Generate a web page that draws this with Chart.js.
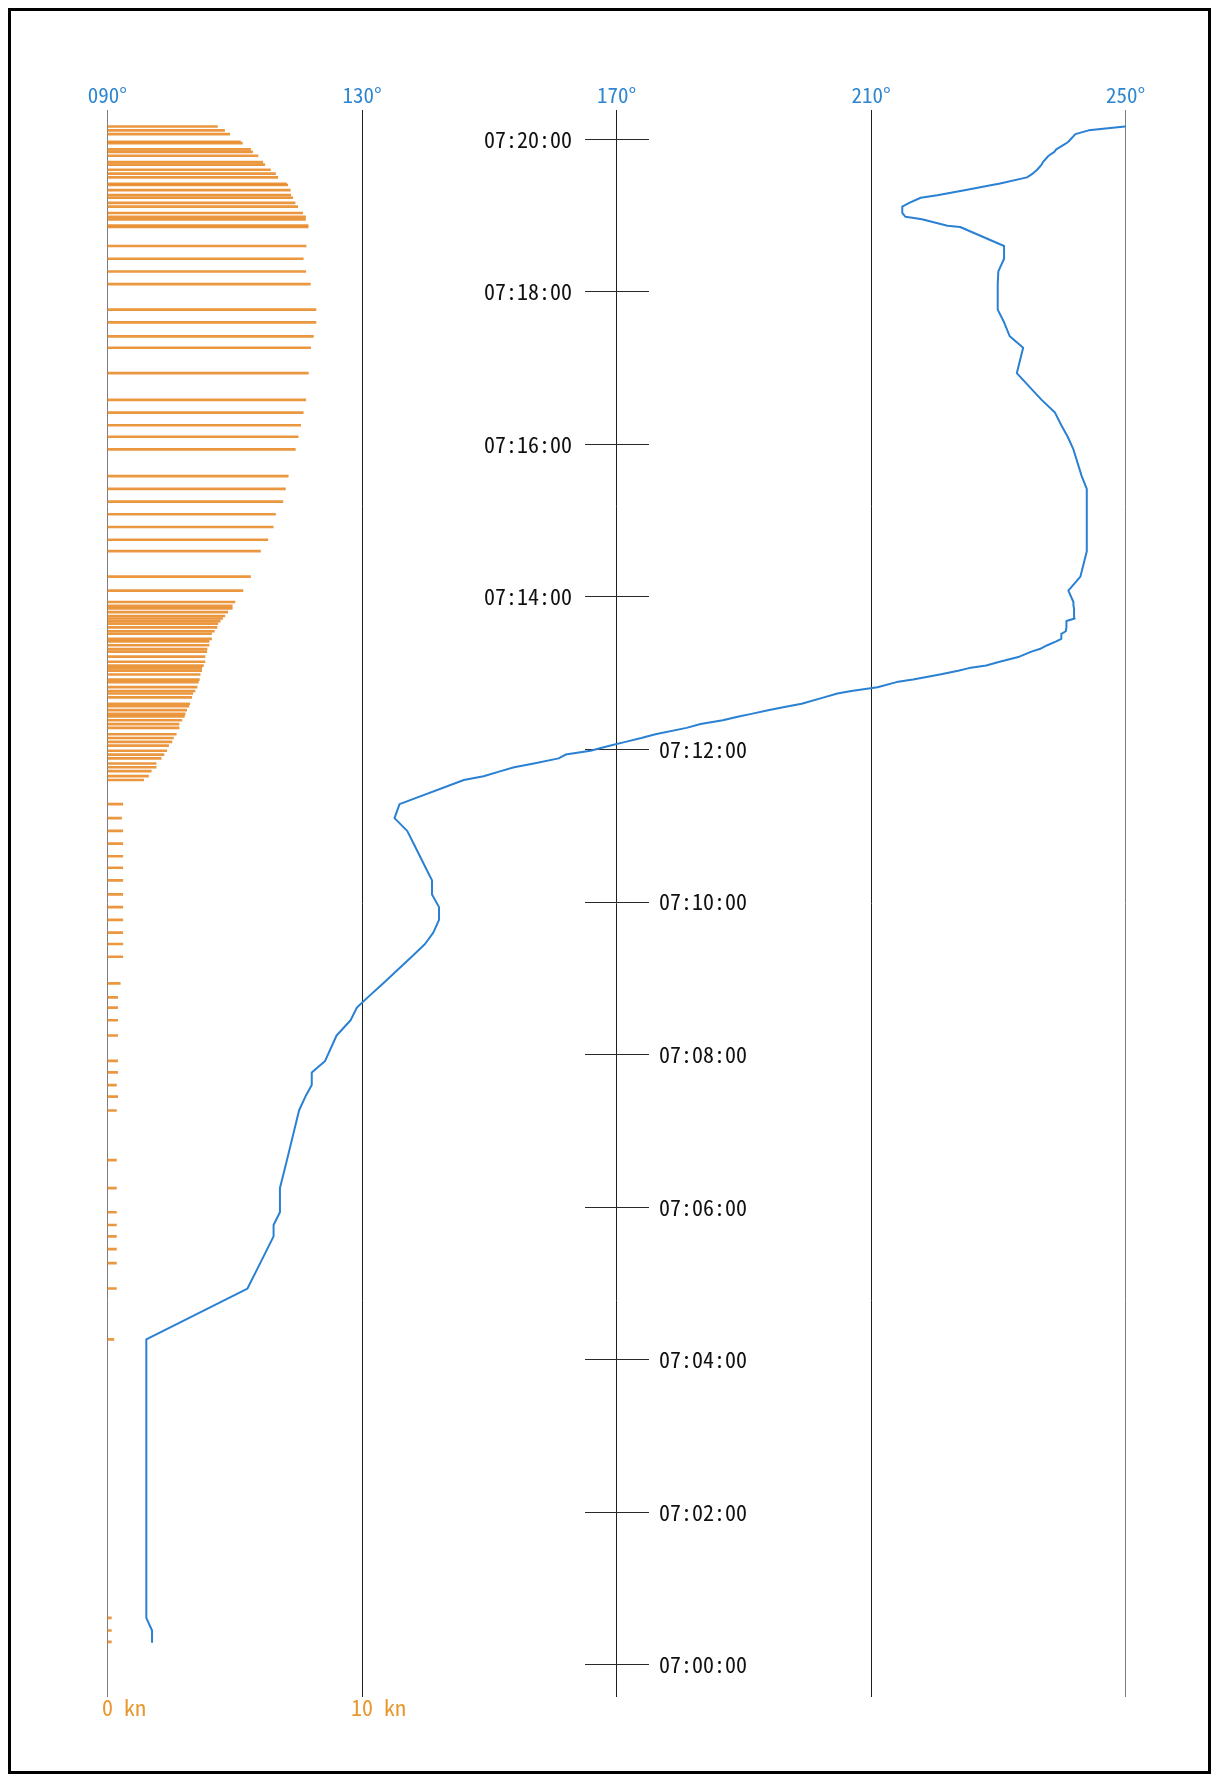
<!DOCTYPE html>
<html>
<head>
<meta charset="utf-8">
<script src="https://cdn.jsdelivr.net/npm/chart.js@4.4.1/dist/chart.umd.min.js"></script>
<style>
html,body{margin:0;padding:0;background:#fff;}
#wrap{position:relative;width:1213px;height:1776px;overflow:hidden;}
#c{position:absolute;left:0;top:0;}
#frame{position:absolute;left:8px;top:8px;width:1197px;height:1760px;border:3px solid #000;pointer-events:none;}
</style>
</head>
<body>
<div id="wrap"><canvas id="c" width="1213" height="1776"></canvas><div id="frame"></div></div>
<script>
// ---- data ----
const sampleTimes = [
'07:00:18','07:00:27','07:00:37','07:04:16','07:04:56','07:05:16','07:05:27','07:05:37','07:05:46','07:05:56',
'07:06:15','07:06:37','07:07:16','07:07:27','07:07:36','07:07:46','07:07:55','07:08:15','07:08:27','07:08:37',
'07:08:45','07:08:56','07:09:17','07:09:27','07:09:36','07:09:46','07:09:56','07:10:06','07:10:17','07:10:27',
'07:10:36','07:10:46','07:10:56','07:11:06','07:11:17','07:11:36','07:11:39','07:11:43','07:11:46','07:11:49',
'07:11:53','07:11:56','07:11:59','07:12:03','07:12:06','07:12:09','07:12:12','07:12:17','07:12:20','07:12:23',
'07:12:26','07:12:28','07:12:31','07:12:34','07:12:36','07:12:41','07:12:44','07:12:46','07:12:49','07:12:53',
'07:12:55','07:12:59','07:13:02','07:13:04','07:13:06','07:13:09','07:13:13','07:13:17','07:13:19','07:13:22',
'07:13:25','07:13:27','07:13:31','07:13:33','07:13:36','07:13:39','07:13:41','07:13:43','07:13:45','07:13:48',
'07:13:51','07:13:53','07:13:56','07:14:05','07:14:16','07:14:36','07:14:45','07:14:55','07:15:05','07:15:15',
'07:15:25','07:15:35','07:15:56','07:16:06','07:16:15','07:16:25','07:16:35','07:16:56','07:17:16','07:17:25',
'07:17:36','07:17:46','07:18:06','07:18:16','07:18:26','07:18:36','07:18:51','07:18:52','07:18:57','07:18:59',
'07:19:02','07:19:07','07:19:10','07:19:14','07:19:16','07:19:20','07:19:24','07:19:25','07:19:30','07:19:33',
'07:19:36','07:19:40','07:19:42','07:19:47','07:19:50','07:19:52','07:19:57','07:19:58','07:20:04','07:20:07',
'07:20:10'];

const speedKn = [
0.15,0.15,0.15,0.25,0.35,0.35,0.35,0.35,0.35,0.35,
0.35,0.35,0.35,0.40,0.35,0.40,0.40,0.40,0.40,0.40,
0.40,0.50,0.60,0.60,0.60,0.60,0.60,0.60,0.60,0.60,
0.60,0.60,0.60,0.55,0.60,1.42,1.61,1.72,1.91,1.91,
2.11,2.22,2.33,2.40,2.53,2.59,2.70,2.81,2.81,2.92,
3.02,3.05,3.11,3.20,3.23,3.31,3.35,3.44,3.52,3.57,
3.61,3.64,3.70,3.70,3.77,3.83,3.83,3.90,3.91,3.99,
3.99,4.09,4.09,4.20,4.30,4.33,4.43,4.52,4.61,4.72,
4.90,4.90,5.01,5.32,5.62,6.01,6.30,6.51,6.60,6.89,
6.99,7.10,7.38,7.49,7.59,7.69,7.79,7.89,7.98,8.09,
8.19,8.19,7.97,7.79,7.69,7.80,7.88,7.88,7.78,7.78,
7.67,7.47,7.37,7.28,7.20,7.18,7.08,7.03,6.69,6.60,
6.40,6.18,6.10,5.91,5.70,5.62,5.30,5.22,4.80,4.60,
4.32];

const headingDeg = [
97.0,97.0,96.1,96.1,112.0,114.0,115.1,116.1,116.1,117.1,
117.1,118.2,120.1,121.1,122.1,122.1,124.2,126.0,128.2,129.2,
130.9,133.3,137.8,139.9,141.2,142.1,142.1,141.0,141.0,140.0,
139.1,138.1,137.1,135.1,135.9,146.0,149.1,151.8,153.9,157.0,
160.9,162.0,165.9,168.9,171.4,173.9,176.1,181.0,183.2,186.7,
189.2,191.2,194.0,197.0,199.1,202.6,204.7,206.9,211.0,214.0,
216.6,220.8,223.7,225.4,228.1,230.2,233.3,235.2,236.5,237.7,
239.1,239.9,239.9,240.6,240.7,240.7,240.7,242.0,241.9,241.9,
241.9,241.8,241.8,241.0,242.9,243.9,243.9,243.9,243.9,243.9,
243.9,243.1,241.8,240.9,239.9,238.9,236.8,232.9,233.9,231.8,
230.9,229.9,229.9,230.0,230.9,230.9,224.0,222.0,218.0,215.4,
214.9,214.9,216.0,217.8,220.4,224.9,229.0,230.1,234.5,235.4,
236.1,236.8,237.0,237.9,238.8,239.1,240.7,241.0,242.1,244.2,
249.9];

const timeTickLabels = ['07:00:00','07:02:00','07:04:00','07:06:00','07:08:00','07:10:00',
                        '07:12:00','07:14:00','07:16:00','07:18:00','07:20:00'];
const headingTickLabels = ['090°','130°','170°','210°','250°'];
const speedTickLabels = ['0 kn','10 kn'];

// ---- helpers ----
function toSec(s){ const p = s.split(':').map(Number); return (p[0]-7)*3600 + p[1]*60 + p[2]; }
const tSec = sampleTimes.map(toSec);
const timeTicks = timeTickLabels.map(toSec);
const headingTicks = headingTickLabels.map(l => parseFloat(l));
const speedTicks = speedTickLabels.map(l => parseFloat(l));
const leftTimeTicks = timeTicks.filter(v => v >= 840);
const rightTimeTicks = timeTicks.filter(v => v <= 720);
const timeLabel = v => timeTickLabels[timeTicks.indexOf(v)] || '';

const FONT = "'Noto Sans Mono CJK JP', 'Noto Sans CJK JP', 'DejaVu Sans Mono', monospace";
const T_MIN = -25.3, T_MAX = 1223;
const BLUE = '#2a80d2';
const ORANGE = 'rgba(232,140,42,0.9)';

function timeAxis(pos, ticksArr, showTicks, showLabels){
  return {
    type: 'linear', axis: 'y', min: T_MIN, max: T_MAX, offset: false,
    position: pos,
    afterBuildTicks: s => { s.ticks = ticksArr.map(v => ({value: v})); },
    border: {display: false},
    grid: {display: showTicks, offset: false, drawOnChartArea: false, drawTicks: showTicks,
           tickLength: 64, color: '#2a2a2a', lineWidth: 1},
    ticks: {display: showLabels, autoSkip: false, padding: 0, color: '#111',
            font: {family: FONT, size: 22, lineHeight: 1}, callback: v => timeLabel(v)}
  };
}

new Chart(document.getElementById('c'), {
  type: 'bar',
  data: {
    datasets: [
      {
        type: 'line', label: 'heading',
        data: tSec.map((t, i) => ({x: headingDeg[i], y: t})),
        xAxisID: 'x', yAxisID: 'y',
        borderColor: BLUE, borderWidth: 2, borderJoinStyle: 'round', borderCapStyle: 'round',
        pointRadius: 0, tension: 0, fill: false, clip: false
      },
      {
        type: 'bar', label: 'speed',
        data: tSec.map((t, i) => ({x: speedKn[i], y: t})),
        xAxisID: 'xk', yAxisID: 'y',
        backgroundColor: ORANGE, borderWidth: 0, barThickness: 2
      }
    ]
  },
  options: {
    indexAxis: 'y',
    responsive: false, animation: false, devicePixelRatio: 1,
    layout: {padding: {left: 107.5, right: 87.4, top: 80, bottom: 49}},
    plugins: {legend: {display: false}, tooltip: {enabled: false}},
    scales: {
      x: {
        type: 'linear', axis: 'x', position: 'top', min: 90, max: 250, offset: false,
        afterBuildTicks: s => { s.ticks = headingTicks.map(v => ({value: v})); },
        afterFit: s => { s.height = 30; },
        border: {display: false},
        grid: {drawTicks: false, offset: false, lineWidth: 1,
               color: c => (c.tick && (c.tick.value === 90 || c.tick.value === 250)) ? '#7d7d7d' : '#1e1e1e'},
        ticks: {autoSkip: false, maxRotation: 0, padding: 4, color: '#2f86d0',
                font: {family: FONT, size: 21, lineHeight: 1},
                callback: (v, i) => headingTickLabels[i]}
      },
      xk: {
        type: 'linear', axis: 'x', position: 'bottom', min: 0, max: 40, offset: false,
        afterBuildTicks: s => { s.ticks = speedTicks.map(v => ({value: v})); },
        afterFit: s => { s.height = 30; },
        border: {display: false},
        grid: {display: false, drawTicks: false},
        ticks: {autoSkip: false, maxRotation: 0, padding: 0, labelOffset: 16.5, color: '#e8982e',
                font: {family: FONT, size: 22, lineHeight: 1},
                callback: (v, i) => speedTickLabels[i]}
      },
      y: {type: 'linear', axis: 'y', min: T_MIN, max: T_MAX, offset: false, display: false,
          grid: {offset: false}},
      yT: timeAxis({x: 175.03}, timeTicks, true, false),
      yL: timeAxis({x: 163.0}, leftTimeTicks, false, true),
      yR: timeAxis({x: 190.5}, rightTimeTicks, false, true)
    }
  }
});
</script>
</body>
</html>
